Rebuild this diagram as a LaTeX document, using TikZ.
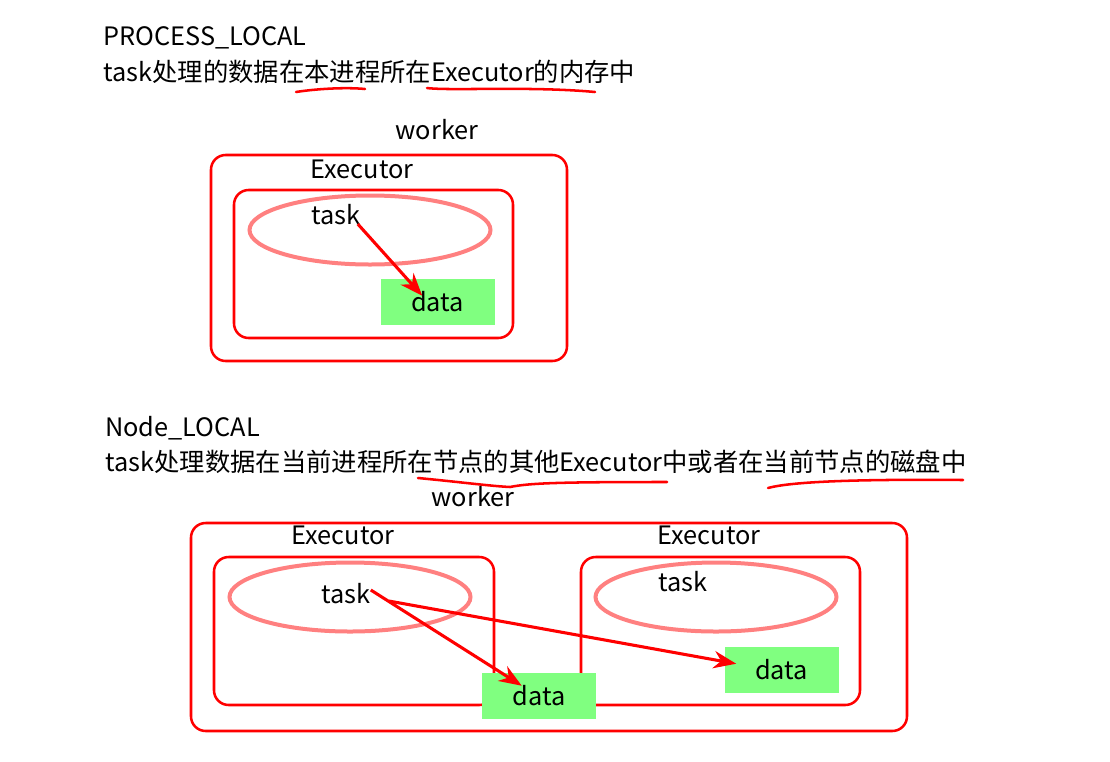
\documentclass[tikz,border=0pt]{standalone}
\usepackage{fontspec}
\setmainfont{Noto Sans CJK SC}
\usetikzlibrary{arrows.meta,positioning,fit,shapes.geometric}

\begin{document}
\begin{tikzpicture}[x=0.75pt, y=-0.75pt, font=\fontsize{19}{22}\selectfont,
        heading/.style={anchor=west, inner sep=0pt},
        txt/.style={inner sep=0pt},
        workerbox/.style={draw=red, line width=1.9pt, rounded corners=11pt, inner sep=0pt},
        execbox/.style={draw=red, line width=1.9pt, rounded corners=11pt, inner sep=0pt},
        ring/.style={ellipse, draw=red!50, line width=3pt, minimum width=180.75pt, minimum height=51.75pt, inner sep=0pt},
        datanode/.style={rectangle, fill=green!50, minimum width=85.5pt, minimum height=34.5pt, inner sep=0pt},
        flow/.style={draw=red, line width=2.3pt, -{Stealth[length=17pt, width=13pt]}},
        underl/.style={draw=red, line width=1.9pt, line cap=round}]
    \useasboundingbox (0,0) rectangle (1110,761);

    % PROCESS_LOCAL
    \node[heading] (title1) at (103,38) {PROCESS\_LOCAL};
    \node[heading] (desc1) at (103,72) {task处理的数据在本进程所在Executor的内存中};
    \draw[underl] (296,92) .. controls (315,89) and (345,87) .. (365,89);
    \draw[underl] (427,88) .. controls (450,91) and (530,86) .. (595,92);

    \node[txt] (worker1lbl) at (437,130) {worker};
    \node[workerbox, fit={(211,155) (567,361)}] (worker1) {};
    \node[txt] (exec1lbl) at (362,169) {Executor};
    \node[execbox, fit={(234,190) (513,338)}] (exec1) {};
    \node[ring] (ring1) at (370,230) {};
    \node[txt] (task1) at (336,215) {task};
    \node[datanode] (data1) at (437.5,302) {data};
    \draw[flow] ([shift={(-3,9)}]task1.east) -- ([shift={(42,17)}]data1.north west);

    % Node_LOCAL
    \node[heading] (title2) at (105,428) {Node\_LOCAL};
    \node[heading] (desc2) at (105,462) {task处理数据在当前进程所在节点的其他Executor中或者在当前节点的磁盘中};
    \draw[underl] (418,478) .. controls (460,482) and (490,486) .. (510,487)
        .. controls (530,483) and (560,482) .. (667,482);
    \draw[underl] (768,488) .. controls (790,482) and (850,479) .. (963,480);

    \node[txt] (worker2lbl) at (473,497) {worker};
    \node[workerbox, fit={(191,523) (907,731)}] (worker2) {};
    \node[txt] (exec2lbl) at (343,535) {Executor};
    \node[txt] (exec3lbl) at (709,535) {Executor};
    \node[execbox, fit={(214,557) (494,705)}] (exec2) {};
    \node[execbox, fit={(581,557) (860,705)}] (exec3) {};
    \node[ring] (ring2) at (350,597) {};
    \node[ring] (ring3) at (716,597) {};
    \node[txt] (task2) at (346,594) {task};
    \node[txt] (task3) at (683,582) {task};
    \node[datanode] (data2) at (539,696) {data};
    \node[datanode] (data3) at (781.5,670) {data};
    \draw[flow] ([shift={(0,-4)}]task2.east) -- ([shift={(40,13)}]data2.north west);
    \draw[flow] ([shift={(18,7)}]task2.east) -- ([shift={(12,17)}]data3.north west);
\end{tikzpicture}
\end{document}
